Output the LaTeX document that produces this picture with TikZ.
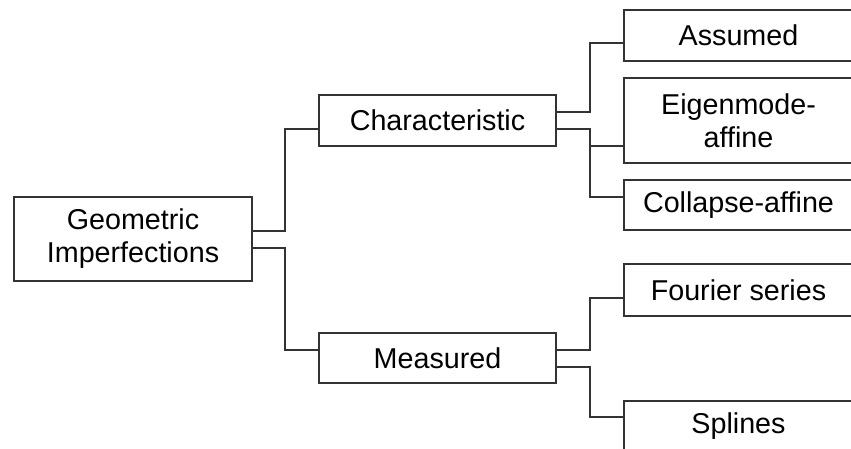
\documentclass[tikz,border=0pt]{standalone}
\usepackage{fontspec}
\setmainfont{Liberation Sans}
\begin{document}
\begin{tikzpicture}[x=1pt,y=-1pt,
  box/.style={draw=black!80, line width=1.1pt, align=center, inner sep=0pt,
    font=\fontsize{28.7}{33}\selectfont},
  link/.style={draw=black!80, line width=1.1pt}]
\clip (0,0) rectangle (851,448);
\useasboundingbox (0,0) rectangle (851,448);
\node[box, minimum width=238pt, minimum height=84pt] (geo) at (133,239) {Geometric\\Imperfections};
\node[box, minimum width=237pt, minimum height=51pt] (char) at (437.5,120.5) {Characteristic};
\node[box, minimum width=237pt, minimum height=50pt] (meas) at (437.5,358) {Measured};
\node[box, minimum width=229pt, minimum height=51pt] (assumed) at (738.5,35.5) {Assumed};
\node[box, minimum width=229pt, minimum height=85pt] (eigen) at (738.5,120.5) {Eigenmode-\\affine};
\node[box, minimum width=229pt, minimum height=50pt] (collapse) at (738.5,205) {Collapse-affine};
\node[box, minimum width=229pt, minimum height=52pt] (fourier) at (738.5,290) {Fourier series};
\node[box, minimum width=229pt, minimum height=51pt] (splines) at (738.5,426.5) {Splines};
% level 1
\draw[link] (geo.east |- 0,231) -| (285,129) -- (char.west |- 0,129);
\draw[link] (geo.east |- 0,248) -| (285,350) -- (meas.west |- 0,350);
% characteristic
\draw[link] (char.east |- 0,112) -| (590,43) -- (assumed.west |- 0,43);
\draw[link] (char.east |- 0,129) -| (590,197) -- (collapse.west |- 0,197);
\draw[link] (590,146) -- (eigen.west |- 0,146);
% measured
\draw[link] (meas.east |- 0,350) -| (590,298) -- (fourier.west |- 0,298);
\draw[link] (meas.east |- 0,367) -| (590,417) -- (splines.west |- 0,417);
\end{tikzpicture}
\end{document}
